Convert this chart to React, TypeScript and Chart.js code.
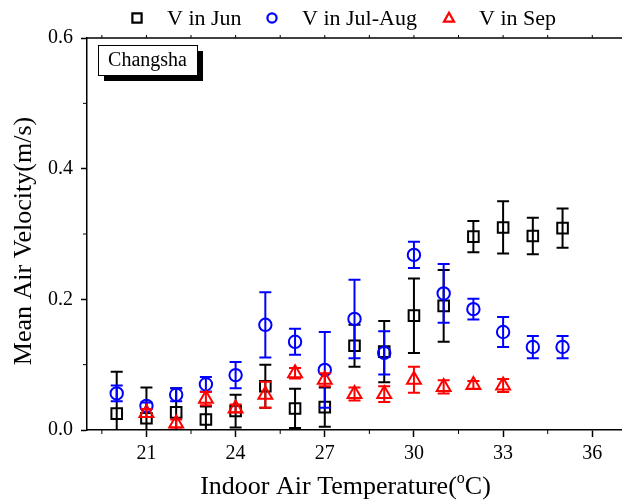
import React, { useEffect, useRef } from 'react';
import { Chart, registerables } from 'chart.js';

Chart.register(...registerables);

// ---- data ----
const TEMP_JUN = [20, 21, 22, 23, 24, 25, 26, 27, 28, 29, 30, 31, 32, 33, 34, 35];
const V_JUN = [0.025, 0.018, 0.027, 0.016, 0.029, 0.067, 0.033, 0.035, 0.129, 0.12, 0.175, 0.19, 0.296, 0.31, 0.297, 0.309];
const ERR_JUN = [0.064, 0.047, 0.037, 0.02, 0.025, 0.033, 0.03, 0.03, 0.032, 0.047, 0.057, 0.055, 0.024, 0.04, 0.028, 0.03];

const TEMP_JULAUG = [20, 21, 22, 23, 24, 25, 26, 27, 28, 29, 30, 31, 32, 33, 34, 35];
const V_JULAUG = [0.056, 0.037, 0.054, 0.07, 0.084, 0.161, 0.135, 0.092, 0.17, 0.118, 0.268, 0.209, 0.185, 0.15, 0.127, 0.127];
const ERR_JULAUG = [0.012, 0.005, 0.01, 0.011, 0.02, 0.05, 0.02, 0.058, 0.06, 0.033, 0.02, 0.045, 0.016, 0.023, 0.017, 0.017];

const TEMP_SEP = [21, 22, 23, 24, 25, 26, 27, 28, 29, 30, 31, 32, 33];
const V_SEP = [0.026, 0.01, 0.048, 0.033, 0.054, 0.087, 0.077, 0.055, 0.055, 0.077, 0.066, 0.069, 0.068];
const ERR_SEP = [0.006, 0.006, 0.01, 0.006, 0.02, 0.008, 0.01, 0.01, 0.012, 0.02, 0.01, 0.006, 0.01];

const SERIES_NAMES = ['V in Jun', 'V in Jul-Aug', 'V in Sep'];
const SERIES_COLORS = ['#000000', '#0000ff', '#ff0000'];
const SERIES_STYLES = ['rect', 'circle', 'triangle'];

const X_TICKS = [21, 24, 27, 30, 33, 36];
const X_MINOR = [19.5, 22.5, 25.5, 28.5, 31.5, 34.5];
const X_TOP_TICKS = [19.5, 21, 22.5, 24, 25.5, 27, 28.5, 30, 31.5, 33, 34.5, 36];
const Y_TICKS = [0, 0.2, 0.4, 0.6];
const Y_MINOR = [0.1, 0.3, 0.5];

const X_TITLE_MAIN = 'Indoor Air Temperature(';
const X_TITLE_SUP = 'o';
const X_TITLE_END = 'C)';
const Y_TITLE = 'Mean Air Velocity(m/s)';
const CITY = 'Changsha';

const SERIF = '"Liberation Serif", "Times New Roman", serif';

function toPoints(xs: number[], ys: number[]) {
  return xs.map((x, i) => ({ x, y: ys[i] }));
}

const errorBarPlugin = {
  id: 'errorBars',
  beforeDatasetDraw(chart: any, args: any) {
    const ds = chart.data.datasets[args.index];
    const errs: number[] = ds.errors;
    if (!errs) return;
    const ctx = chart.ctx;
    const ys = chart.scales.y;
    const area = chart.chartArea;
    ctx.save();
    ctx.beginPath();
    ctx.rect(area.left, area.top, area.right - area.left, area.bottom - area.top);
    ctx.clip();
    ctx.strokeStyle = ds.borderColor;
    ctx.lineWidth = 2;
    const cap = 6;
    args.meta.data.forEach((el: any, i: number) => {
      const v = ds.data[i].y;
      const e = errs[i];
      const yt = ys.getPixelForValue(v + e);
      const yb = ys.getPixelForValue(v - e);
      const x = el.x;
      ctx.beginPath();
      ctx.moveTo(x, yt);
      ctx.lineTo(x, yb);
      ctx.moveTo(x - cap, yt);
      ctx.lineTo(x + cap, yt);
      ctx.moveTo(x - cap, yb);
      ctx.lineTo(x + cap, yb);
      ctx.stroke();
    });
    ctx.restore();
  },
};

function drawMarker(ctx: CanvasRenderingContext2D, style: string, x: number, y: number, r: number) {
  ctx.beginPath();
  if (style === 'rect') {
    ctx.rect(x - r, y - r, 2 * r, 2 * r);
  } else if (style === 'circle') {
    ctx.arc(x, y, r, 0, Math.PI * 2);
  } else {
    const h = r * 1.15;
    ctx.moveTo(x, y - h);
    ctx.lineTo(x + h * 0.95, y + h * 0.7);
    ctx.lineTo(x - h * 0.95, y + h * 0.7);
    ctx.closePath();
  }
  ctx.stroke();
}

const decorPlugin = {
  id: 'decor',
  afterDraw(chart: any) {
    const ctx: CanvasRenderingContext2D = chart.ctx;
    const area = chart.chartArea;
    const xs = chart.scales.x;
    const ys = chart.scales.y;
    ctx.save();
    ctx.strokeStyle = '#000';
    ctx.lineWidth = 1.5;
    // top axis line
    ctx.beginPath();
    ctx.moveTo(area.left, area.top);
    ctx.lineTo(area.right, area.top);
    ctx.stroke();
    // top ticks
    ctx.lineWidth = 1;
    X_TOP_TICKS.forEach((v) => {
      const px = xs.getPixelForValue(v);
      ctx.beginPath();
      ctx.moveTo(px, area.top);
      ctx.lineTo(px, area.top - 3);
      ctx.stroke();
    });
    // minor x ticks
    X_MINOR.forEach((v) => {
      const px = xs.getPixelForValue(v);
      ctx.beginPath();
      ctx.moveTo(px, area.bottom);
      ctx.lineTo(px, area.bottom + 4);
      ctx.stroke();
    });
    // minor y ticks
    Y_MINOR.forEach((v) => {
      const py = ys.getPixelForValue(v);
      ctx.beginPath();
      ctx.moveTo(area.left, py);
      ctx.lineTo(area.left - 4, py);
      ctx.stroke();
    });

    // x title with superscript
    ctx.fillStyle = '#000';
    ctx.textBaseline = 'alphabetic';
    ctx.textAlign = 'left';
    const mainFont = `26px ${SERIF}`;
    const supFont = `16px ${SERIF}`;
    ctx.font = mainFont;
    const w1 = ctx.measureText(X_TITLE_MAIN).width;
    const w3 = ctx.measureText(X_TITLE_END).width;
    ctx.font = supFont;
    const w2 = ctx.measureText(X_TITLE_SUP).width;
    const total = w1 + w2 + w3;
    const cx = (area.left + area.right) / 2 - 9;
    let tx = cx - total / 2;
    const ty = 494;
    ctx.font = mainFont;
    ctx.fillText(X_TITLE_MAIN, tx, ty);
    tx += w1;
    ctx.font = supFont;
    ctx.fillText(X_TITLE_SUP, tx, ty - 11);
    tx += w2;
    ctx.font = mainFont;
    ctx.fillText(X_TITLE_END, tx, ty);

    // y title
    ctx.save();
    ctx.translate(24, (area.top + area.bottom) / 2 + 7);
    ctx.rotate(-Math.PI / 2);
    ctx.textAlign = 'center';
    ctx.textBaseline = 'middle';
    ctx.font = mainFont;
    ctx.fillText(Y_TITLE, 0, 0);
    ctx.restore();

    // city box with shadow
    const bx = area.left + 11;
    const by = area.top + 7;
    const bw = 99;
    const bh = 30;
    ctx.fillStyle = '#000';
    ctx.fillRect(bx + 6, by + 6, bw, bh);
    ctx.fillStyle = '#fff';
    ctx.fillRect(bx, by, bw, bh);
    ctx.strokeStyle = '#000';
    ctx.lineWidth = 1;
    ctx.strokeRect(bx + 0.5, by + 0.5, bw, bh);
    ctx.fillStyle = '#000';
    ctx.font = `20px ${SERIF}`;
    ctx.textAlign = 'center';
    ctx.textBaseline = 'middle';
    ctx.fillText(CITY, bx + bw / 2, by + bh / 2 + 1);

    // legend
    const markerX = [137, 272, 449];
    const ly = 18;
    ctx.font = `22px ${SERIF}`;
    ctx.textAlign = 'left';
    ctx.textBaseline = 'middle';
    SERIES_NAMES.forEach((name, i) => {
      ctx.strokeStyle = SERIES_COLORS[i];
      ctx.lineWidth = 2.2;
      drawMarker(ctx, SERIES_STYLES[i], markerX[i], ly, 4.6);
      ctx.fillStyle = '#000';
      ctx.fillText(name, markerX[i] + 30, ly + 1);
    });
    ctx.restore();
  },
};

export default function App() {
  const ref = useRef<HTMLCanvasElement | null>(null);
  useEffect(() => {
    if (!ref.current) return;
    const mk = (i: number, xs: number[], ys: number[], errs: number[], r: number) => ({
      label: SERIES_NAMES[i],
      data: toPoints(xs, ys),
      errors: errs,
      borderColor: SERIES_COLORS[i],
      backgroundColor: 'rgba(0,0,0,0)',
      pointStyle: SERIES_STYLES[i],
      pointRadius: r,
      pointBorderWidth: 2,
      showLine: false,
      order: 2 - i,
    });
    const chart = new Chart(ref.current, {
      type: 'scatter',
      data: {
        datasets: [
          mk(0, TEMP_JUN, V_JUN, ERR_JUN, 7.5),
          mk(1, TEMP_JULAUG, V_JULAUG, ERR_JULAUG, 6.2),
          mk(2, TEMP_SEP, V_SEP, ERR_SEP, 8),
        ] as any,
      },
      options: {
        animation: false,
        responsive: true,
        maintainAspectRatio: false,
        layout: { autoPadding: false, padding: { top: 38, right: 0, left: 0, bottom: 0 } },
        plugins: { legend: { display: false }, tooltip: { enabled: false } },
        scales: {
          x: {
            type: 'linear',
            position: 'bottom',
            min: 19,
            max: 37,
            afterBuildTicks: (s: any) => {
              s.ticks = X_TICKS.map((v) => ({ value: v }));
            },
            afterFit: (s: any) => {
              s.height = 73;
              s.paddingRight = 0;
              s.paddingLeft = 0;
            },
            ticks: {
              color: '#000',
              font: { family: SERIF, size: 20 },
              padding: 5,
              maxRotation: 0,
              autoSkip: false,
            },
            grid: {
              display: true,
              drawOnChartArea: false,
              drawTicks: true,
              tickLength: 7,
              tickColor: '#000',
              tickWidth: 1.5,
            },
            border: { display: true, color: '#000', width: 1.5 },
          },
          y: {
            type: 'linear',
            position: 'left',
            min: 0,
            max: 0.6,
            afterBuildTicks: (s: any) => {
              s.ticks = Y_TICKS.map((v) => ({ value: v }));
            },
            afterFit: (s: any) => {
              s.width = 87;
              s.paddingTop = 0;
              s.paddingBottom = 0;
            },
            ticks: {
              color: '#000',
              font: { family: SERIF, size: 20 },
              padding: 8,
              callback: (v: any) => Number(v).toFixed(1),
            },
            grid: {
              display: true,
              drawOnChartArea: false,
              drawTicks: true,
              tickLength: 6,
              tickColor: '#000',
              tickWidth: 1.5,
            },
            border: { display: true, color: '#000', width: 1.5 },
          },
        },
      },
      plugins: [errorBarPlugin, decorPlugin],
    });
    return () => chart.destroy();
  }, []);
  return (
    <div style={{ position: 'fixed', left: 0, top: 0, width: 622, height: 503, background: '#fff' }}>
      <canvas ref={ref} />
    </div>
  );
}
